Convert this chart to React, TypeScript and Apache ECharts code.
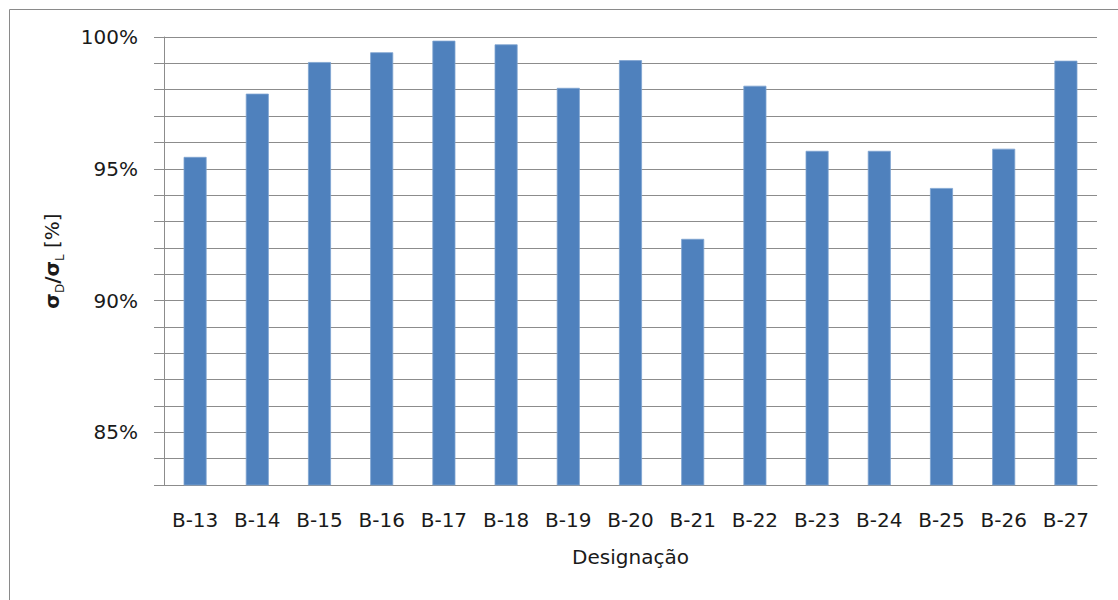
import React, { useEffect, useRef } from "react";
import * as echarts from "echarts";

// Designations and measured ratio σD/σL, in percent
const designations = [
  "B-13", "B-14", "B-15", "B-16", "B-17", "B-18", "B-19", "B-20",
  "B-21", "B-22", "B-23", "B-24", "B-25", "B-26", "B-27",
];
const ratios = [
  95.45, 97.85, 99.05, 99.42, 99.86, 99.72, 98.07, 99.12,
  92.34, 98.15, 95.68, 95.68, 94.27, 95.76, 99.1,
];
const yMin = 83;
const yMax = 100;
const yStep = 1;
const yLabelStep = 5;

const FONT = "DejaVu Sans";
const GRID = "#8c8c8c";
const TEXT = "#1a1a1a";

export default function App() {
  const ref = useRef<HTMLDivElement>(null);

  useEffect(() => {
    if (!ref.current) return;
    const chart = echarts.init(ref.current, undefined, { renderer: "svg" });
    chart.setOption({
      animation: false,
      backgroundColor: "#ffffff",
      textStyle: { fontFamily: FONT },
      graphic: [
        {
          type: "rect",
          shape: { x: 9.5, y: 9.5, width: 1200, height: 700 },
          style: { fill: "none", stroke: "#8a8a8a", lineWidth: 1 },
          silent: true,
          z: -1,
        },
      ],
      grid: { left: 164, right: 21, top: 37, bottom: 115 },
      xAxis: {
        type: "category",
        data: designations,
        name: "Designação",
        nameLocation: "middle",
        nameGap: 62,
        nameTextStyle: { fontFamily: FONT, fontSize: 20, color: TEXT },
        axisLine: { show: true, lineStyle: { color: GRID, width: 1 } },
        axisTick: { show: false },
        axisLabel: {
          margin: 25,
          fontFamily: FONT,
          fontSize: 20,
          color: TEXT,
          interval: 0,
        },
      },
      yAxis: {
        type: "value",
        min: yMin,
        max: yMax,
        interval: yStep,
        name:
          "{b|σ}{sub|D}{b|/σ}{sub|L}{n| [%]}",
        nameLocation: "middle",
        nameGap: 98,
        nameRotate: 90,
        nameTextStyle: {
          rich: {
            b: {
              fontFamily: FONT,
              fontSize: 20,
              fontWeight: "bold",
              color: TEXT,
              verticalAlign: "bottom",
              padding: [0, 0, 4, 0],
            },
            sub: {
              fontFamily: FONT,
              fontSize: 12,
              color: TEXT,
              verticalAlign: "bottom",
            },
            n: {
              fontFamily: FONT,
              fontSize: 20,
              color: TEXT,
              verticalAlign: "bottom",
              padding: [0, 0, 4, 0],
            },
          },
        },
        axisLine: { show: true, lineStyle: { color: GRID, width: 1 } },
        axisTick: {
          show: true,
          inside: false,
          length: 10,
          lineStyle: { color: GRID, width: 1 },
        },
        splitLine: { show: true, lineStyle: { color: GRID, width: 1 } },
        axisLabel: {
          margin: 26,
          fontFamily: FONT,
          fontSize: 20,
          color: TEXT,
          formatter: (v: number) => (v % yLabelStep === 0 ? `${v}%` : ""),
        },
      },
      series: [
        {
          type: "bar",
          data: ratios,
          barWidth: 23,
          itemStyle: {
            color: "#4f81bd",
            borderColor: "#7ea3d1",
            borderWidth: 0.8,
          },
        },
      ],
    });
    return () => chart.dispose();
  }, []);

  return (
    <div
      ref={ref}
      style={{ position: "absolute", left: 0, top: 0, width: 1118, height: 600 }}
    />
  );
}
